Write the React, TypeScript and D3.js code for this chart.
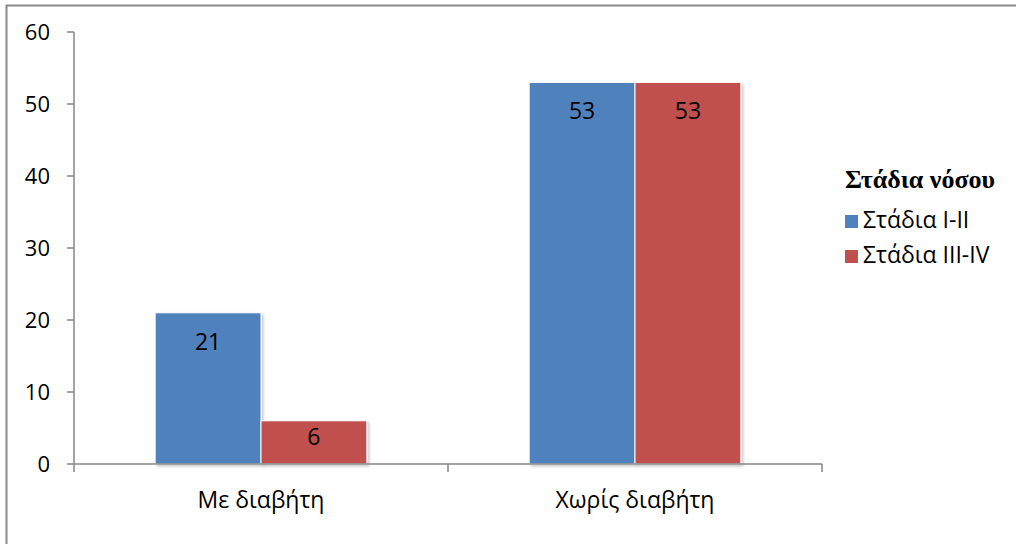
import React from "react";
import * as d3 from "d3";

const categories = ["Με διαβήτη", "Χωρίς διαβήτη"];
const seriesNames = ["Στάδια I-II", "Στάδια III-IV"];
const seriesColors = ["#4F81BD", "#C0504D"];
const stageI_II = [21, 53];
const stageIII_IV = [6, 53];
const yTicks = [0, 10, 20, 30, 40, 50, 60];
const legendTitle = "Στάδια νόσου";

const W = 1016;
const H = 544;
const plot = { left: 74, right: 822, top: 32, bottom: 464 };
const font = "'Open Sans', 'Noto Sans', sans-serif";

export default function App() {
  const series = [stageI_II, stageIII_IV];
  const x = d3.scaleBand<string>().domain(categories).range([plot.left, plot.right]).paddingInner(0.434).paddingOuter(0.217);
  const x1 = d3.scaleBand<number>().domain([0, 1]).range([0, x.bandwidth()]).padding(0);
  const y = d3.scaleLinear().domain([0, 60]).range([plot.bottom, plot.top]);

  const step = (plot.right - plot.left) / categories.length;
  const bounds = d3.range(categories.length + 1).map((i) => plot.left + i * step);

  return (
    <svg width={W} height={H} style={{ position: "absolute", left: 0, top: 0, display: "block" }}>
      <defs>
        <filter id="sh" x="-10%" y="-10%" width="130%" height="130%">
          <feDropShadow dx="2" dy="2" stdDeviation="1.5" floodColor="#000" floodOpacity="0.22" />
        </filter>
      </defs>
      <rect x={0} y={0} width={W} height={H} fill="#fff" />
      <rect x={6.5} y={5.5} width={W + 20} height={H + 20} fill="none" stroke="#888" strokeWidth={2} />

      {categories.map((c, ci) =>
        series.map((s, si) => {
          const bx = (x(c) as number) + (x1(si) as number);
          const by = y(s[ci]);
          const bw = x1.bandwidth();
          const bh = y(0) - by;
          const ly = by + Math.min(37, bh * 0.56);
          return (
            <g key={`${ci}-${si}`}>
              <rect x={bx} y={by} width={bw} height={bh} fill={seriesColors[si]} stroke="#fff" strokeWidth={1} filter="url(#sh)" />
              <text x={bx + bw / 2} y={ly} textAnchor="middle" fontFamily={font} fontSize={23} fill="#000">
                {s[ci]}
              </text>
            </g>
          );
        })
      )}

      <line x1={plot.left} x2={plot.left} y1={plot.top} y2={plot.bottom} stroke="#868686" strokeWidth={1.5} />
      {yTicks.map((t) => (
        <g key={t}>
          <line x1={plot.left - 7} x2={plot.left} y1={y(t)} y2={y(t)} stroke="#868686" strokeWidth={1.5} />
          <text x={plot.left - 24} y={y(t) + 7.5} textAnchor="end" fontFamily={font} fontSize={22} fill="#000">
            {t}
          </text>
        </g>
      ))}

      <line x1={plot.left} x2={plot.right} y1={plot.bottom} y2={plot.bottom} stroke="#868686" strokeWidth={1.5} />
      {bounds.map((b, i) => (
        <line key={i} x1={b} x2={b} y1={plot.bottom} y2={plot.bottom + 8} stroke="#868686" strokeWidth={1.5} />
      ))}
      {categories.map((c) => (
        <text key={c} x={(x(c) as number) + x.bandwidth() / 2} y={508} textAnchor="middle" fontFamily={font} fontSize={23} fill="#000">
          {c}
        </text>
      ))}

      <text x={845} y={188} fontFamily="'Liberation Serif', 'Times New Roman', serif" fontWeight="bold" fontSize={26} fill="#000">
        {legendTitle}
      </text>
      {seriesNames.map((n, i) => (
        <g key={n}>
          <rect x={845} y={215 + i * 35} width={13} height={13} fill={seriesColors[i]} />
          <text x={863} y={228 + i * 35} fontFamily={font} fontSize={23} fill="#000">
            {n}
          </text>
        </g>
      ))}
    </svg>
  );
}
